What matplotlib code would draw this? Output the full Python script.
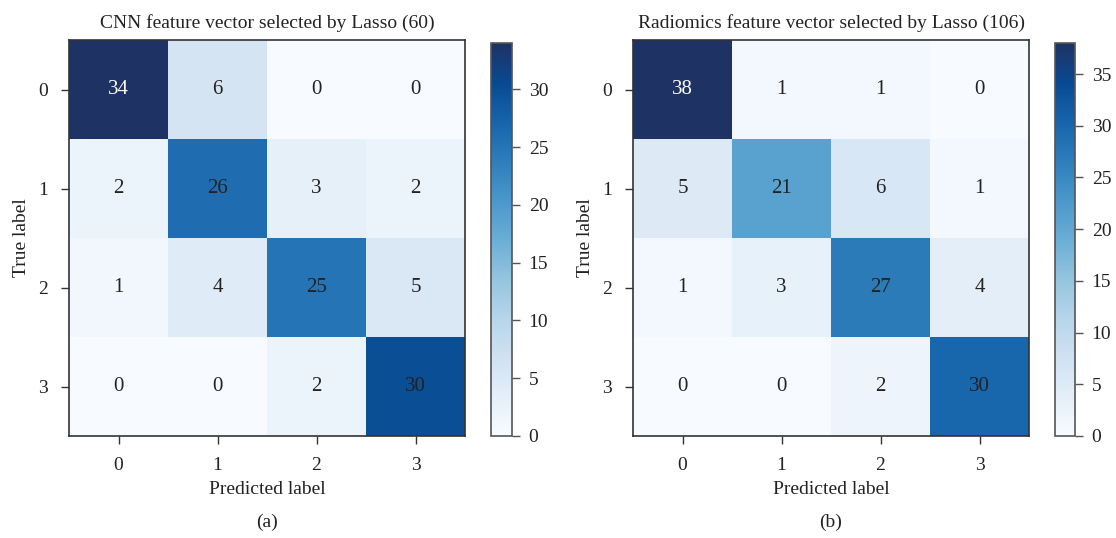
import matplotlib
matplotlib.use("Agg")
import matplotlib.pyplot as plt
from matplotlib.colors import LinearSegmentedColormap
import numpy as np

plt.rcParams['font.family'] = ['Liberation Serif', 'DejaVu Serif']

class_labels = ["0", "1", "2", "3"]

cm_cnn = [
    [34, 6, 0, 0],
    [2, 26, 3, 2],
    [1, 4, 25, 5],
    [0, 0, 2, 30],
]
cm_radiomics = [
    [38, 1, 1, 0],
    [5, 21, 6, 1],
    [1, 3, 27, 4],
    [0, 0, 2, 30],
]

titles = [
    "CNN feature vector selected by Lasso (60)",
    "Radiomics feature vector selected by Lasso (106)",
]
panel_tags = ["(a)", "(b)"]

# Blues with a slightly greyer navy at the top end
base = plt.get_cmap("Blues")
stops = [base(t) for t in np.linspace(0, 0.9, 10)] + ["#1f3264"]
cmap = LinearSegmentedColormap.from_list("blues_navy", stops, N=256)

W, H = 1116, 538
fig = plt.figure(figsize=(W / 100, H / 100), dpi=100)

def frac(x0, y0, x1, y1):
    return [x0 / W, 1 - y1 / H, (x1 - x0) / W, (y1 - y0) / H]

ax_boxes = [frac(69, 40, 465, 436), frac(633, 40, 1029, 436)]
cb_boxes = [frac(491, 43, 512, 436), frac(1055, 43, 1075, 436)]
tag_x = [267, 831]

txt = "#222222"
spine_col = "#333333"
for k, (mat, title, tag, axb, cbb) in enumerate(
        zip([cm_cnn, cm_radiomics], titles, panel_tags, ax_boxes, cb_boxes)):
    data = np.array(mat)
    ax = fig.add_axes(axb)
    im = ax.imshow(data, cmap=cmap, vmin=0, vmax=data.max(), aspect="auto",
                   interpolation="nearest")
    ax.set_title(title, fontsize=14, pad=9, color=txt)
    ax.set_xticks(range(len(class_labels)))
    ax.set_yticks(range(len(class_labels)))
    ax.set_xticklabels(class_labels, fontsize=14, color=txt)
    ax.set_yticklabels(class_labels, fontsize=14, color=txt)
    ax.tick_params(length=6, width=1, color=spine_col, pad=9)
    ax.set_xlabel("Predicted label", fontsize=14, color=txt, labelpad=5)
    ax.set_ylabel("True label", fontsize=14, color=txt, labelpad=6)
    for s in ax.spines.values():
        s.set_color(spine_col)
        s.set_linewidth(1.2)
    thresh = 0.9 * data.max()
    for i in range(data.shape[0]):
        for j in range(data.shape[1]):
            v = data[i, j]
            ax.text(j, i, str(v), ha="center", va="center", fontsize=15,
                    color="white" if v > thresh else txt)
    fig.text(tag_x[k] / W, 1 - 522 / H, tag, ha="center", va="center",
             fontsize=14, color=txt)

    cax = fig.add_axes(cbb)
    cb = fig.colorbar(im, cax=cax, ticks=range(0, int(data.max()) + 1, 5))
    cb.outline.set_edgecolor("#555555")
    cb.outline.set_linewidth(1.2)
    cax.tick_params(labelsize=14, length=6, width=1, color="#555555", pad=6,
                    labelcolor=txt)

fig.savefig("out.png", dpi=100)
